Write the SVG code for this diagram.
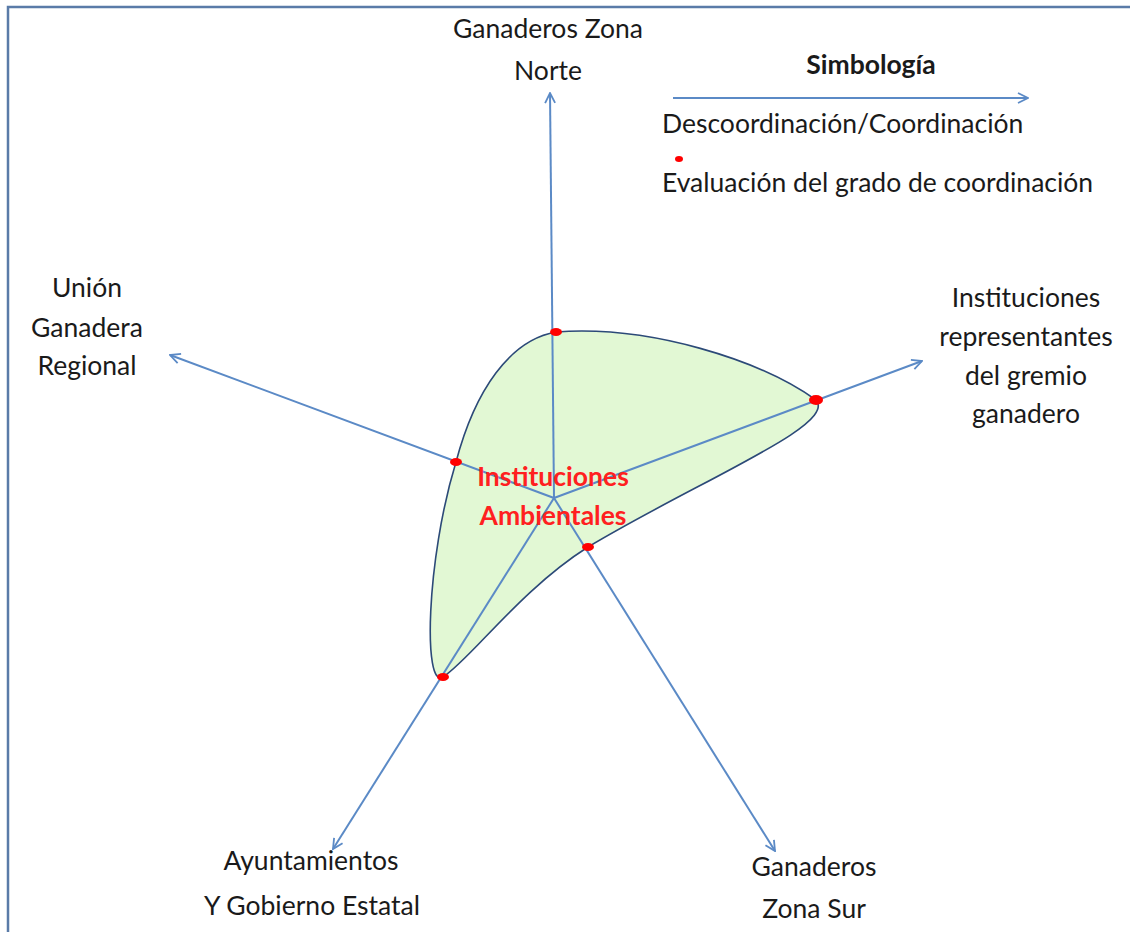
<svg xmlns="http://www.w3.org/2000/svg" width="1130" height="932" viewBox="0 0 1130 932">
<style>
.t{font-family:Lato,"Open Sans","Liberation Sans",sans-serif;font-size:26.5px;fill:#1a1a1a;text-anchor:middle}
.c{fill:none;stroke:#5b8ac6;stroke-width:2;marker-end:url(#ah)}
.d{fill:#ff0000}
.r{font-family:Lato,"Open Sans","Liberation Sans",sans-serif;font-size:26.5px;font-weight:bold;fill:#ff2020;text-anchor:middle}
</style>
<defs>
<marker id="ah" viewBox="0 0 12 12" refX="11" refY="6" markerWidth="12" markerHeight="12" markerUnits="userSpaceOnUse" orient="auto">
<path d="M1 1 L11 6 L1 11" fill="none" stroke="#5b8ac6" stroke-width="1.8"/>
</marker>
</defs>
<rect width="1130" height="932" fill="#fff"/>
<path d="M8 932 V7 H1130" fill="none" stroke="#5a7ba8" stroke-width="2.5"/>
<g id="shape">
<path d="M556 332 C650 325 760 360 816 400 C838 425 700 480 588 547 C520 590 470 660 443 677 C423 690 426 560 456 462 C475 390 510 340 556 332 Z" fill="#e2f8d4" stroke="#2c4a78" stroke-width="1.6"/>
</g>
<g id="connectors">
<path class="c" d="M554 498 L550 93"/>
<path class="c" d="M554 498 L922 361"/>
<path class="c" d="M554 498 L170 355"/>
<path class="c" d="M554 498 L333 849"/>
<path class="c" d="M554 498 L775 851"/>
<path class="c" d="M673 98 L1028 98"/>
</g>
<g id="points">
<ellipse class="d" cx="556" cy="332" rx="6" ry="4"/>
<ellipse class="d" cx="816" cy="400" rx="7" ry="5"/>
<ellipse class="d" cx="456" cy="462" rx="6" ry="4"/>
<ellipse class="d" cx="588" cy="547" rx="6" ry="4"/>
<ellipse class="d" cx="443" cy="677" rx="6" ry="4"/>
</g>
<g id="center"><text class="r" x="553" y="486">Instituciones</text><text class="r" x="553" y="525">Ambientales</text></g>
<g id="norte"><text class="t" x="548" y="38">Ganaderos Zona</text><text class="t" x="548" y="80">Norte</text></g>
<g id="union"><text class="t" x="87" y="297">Unión</text><text class="t" x="87" y="337">Ganadera</text><text class="t" x="87" y="375">Regional</text></g>
<g id="gremio"><text class="t" x="1026" y="307">Instituciones</text><text class="t" x="1026" y="346">representantes</text><text class="t" x="1026" y="385">del gremio</text><text class="t" x="1026" y="423">ganadero</text></g>
<g id="ayuntamientos"><text class="t" x="311" y="870">Ayuntamientos</text><text class="t" x="312" y="915">Y Gobierno Estatal</text></g>
<g id="sur"><text class="t" x="814" y="876">Ganaderos</text><text class="t" x="814" y="918">Zona Sur</text></g>
<g id="legend">
<text class="t" x="871" y="74" font-weight="bold">Simbología</text>
<text class="t" x="662" y="133" style="text-anchor:start">Descoordinación/Coordinación</text>
<ellipse class="d" cx="679" cy="159" rx="4" ry="3"/>
<text class="t" x="662" y="192" style="text-anchor:start">Evaluación del grado de coordinación</text>
</g>
</svg>
